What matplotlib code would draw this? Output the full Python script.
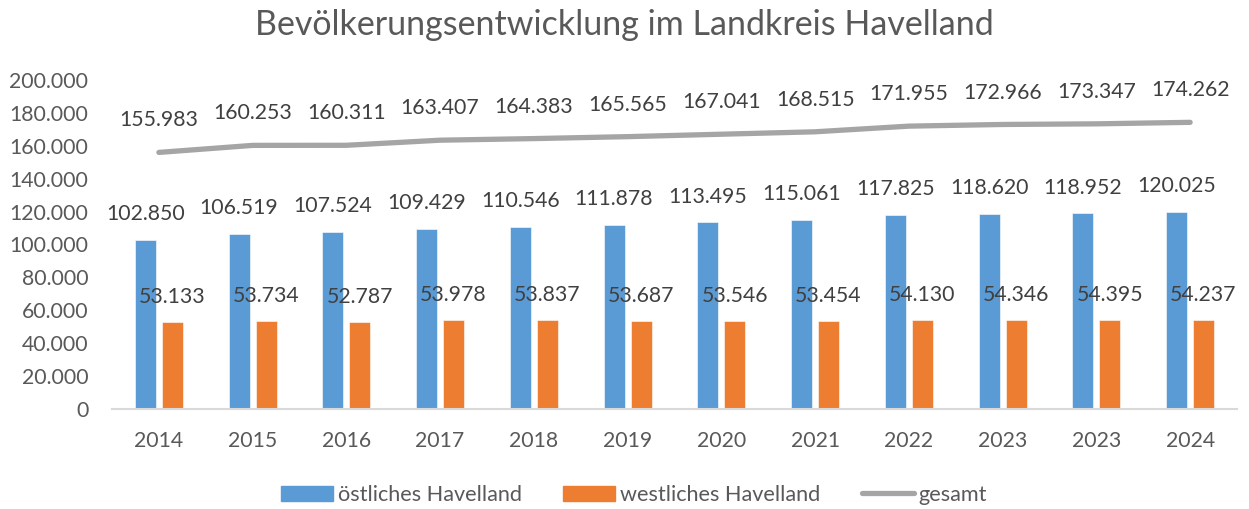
import numpy as np
import matplotlib.pyplot as plt
from matplotlib.patches import Patch
from matplotlib.lines import Line2D

plt.rcParams['font.family'] = ['Lato', 'DejaVu Sans']

# ====================== DATA ======================
years = ["2014", "2015", "2016", "2017", "2018", "2019",
         "2020", "2021", "2022", "2023", "2023", "2024"]
oestlich = [102850, 106519, 107524, 109429, 110546, 111878,
            113495, 115061, 117825, 118620, 118952, 120025]
westlich = [53133, 53734, 52787, 53978, 53837, 53687,
            53546, 53454, 54130, 54346, 54395, 54237]
gesamt = [155983, 160253, 160311, 163407, 164383, 165565,
          167041, 168515, 171955, 172966, 173347, 174262]

BLUE = "#5B9BD5"
ORANGE = "#ED7D31"
GRAY = "#A5A5A5"
TXT = "#595959"
FS = 15.3


def fmt(v):
    return f"{v:,}".replace(",", ".")


# ====================== PLOT ======================
fig = plt.figure(figsize=(12.49, 5.09), dpi=100)
ax = fig.add_axes([112 / 1249, 1 - 409 / 509, 1125 / 1249, 329 / 509])

x = np.arange(len(years))
w = 0.224
ax.bar(x - 0.145, oestlich, w, color=BLUE, edgecolor="white", linewidth=0.4)
ax.bar(x + 0.143, westlich, w, color=ORANGE, edgecolor="white", linewidth=0.4)
ax.plot(x, gesamt, color=GRAY, lw=3.8, solid_capstyle="round", zorder=3)

for i in x:
    ax.annotate(fmt(oestlich[i]), (i - 0.145, oestlich[i]), xytext=(0, 18.5),
                textcoords="offset points", ha="center", va="center",
                fontsize=FS, color="#404040")
    ax.annotate(fmt(westlich[i]), (i + 0.143, westlich[i]), xytext=(0, 18),
                textcoords="offset points", ha="center", va="center",
                fontsize=FS, color="#404040")
    ax.annotate(fmt(gesamt[i]), (i, gesamt[i]), xytext=(0, 23),
                textcoords="offset points", ha="center", va="center",
                fontsize=FS, color="#404040")

ax.set_xlim(-0.5, len(years) - 0.5)
ax.set_ylim(0, 200000)
ax.set_yticks(np.arange(0, 200001, 20000))
ax.set_yticklabels([fmt(v) for v in np.arange(0, 200001, 20000)])
ax.set_xticks(x)
ax.set_xticklabels(years)
ax.tick_params(axis="y", length=0, pad=17, labelsize=FS, labelcolor=TXT)
ax.tick_params(axis="x", length=0, pad=16, labelsize=FS, labelcolor=TXT)
for s in ["top", "right", "left"]:
    ax.spines[s].set_visible(False)
ax.spines["bottom"].set_color("#D9D9D9")
ax.spines["bottom"].set_linewidth(1.5)

fig.suptitle("Bevölkerungsentwicklung im Landkreis Havelland",
             y=1 - 25 / 509, va="center", fontsize=24.5, color=TXT)

handles = [Patch(color=BLUE), Patch(color=ORANGE),
           Line2D([], [], color=GRAY, lw=3.8, solid_capstyle="round")]
labels = ["östliches Havelland", "westliches Havelland", "gesamt"]
fig.legend(handles, labels, loc="center", bbox_to_anchor=(634 / 1249, 1 - 495 / 509),
           ncol=3, frameon=False, fontsize=15.6, handlelength=2.4,
           handletextpad=0.23, columnspacing=1.9, labelcolor=TXT)

fig.savefig("out.png", dpi=100)
